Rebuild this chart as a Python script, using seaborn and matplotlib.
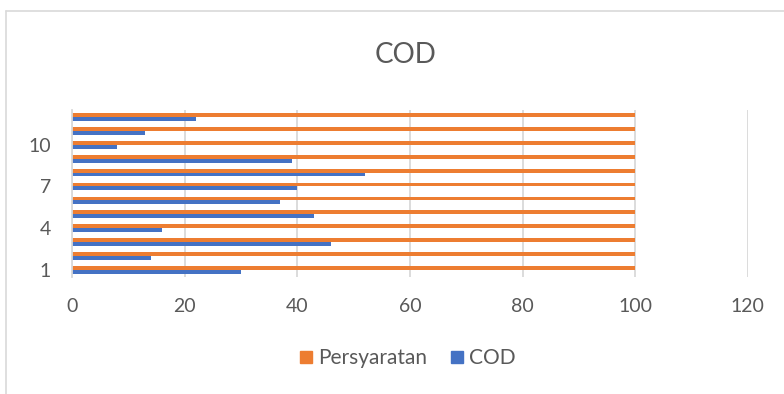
import pandas as pd
import matplotlib.pyplot as plt
import seaborn as sns
from matplotlib.lines import Line2D

# data
categories = [str(i) for i in range(1, 13)]
cod_values = [30, 14, 46, 16, 43, 37, 40, 52, 39, 8, 13, 22]
persyaratan_values = [100] * 12
shown_labels = ["1", "4", "7", "10"]

df = pd.DataFrame({
    "Sampel": categories * 2,
    "Nilai": persyaratan_values + cod_values,
    "Seri": ["Persyaratan"] * 12 + ["COD"] * 12,
})

sns.set_theme(style="white")
plt.rcParams["font.family"] = ["Lato", "DejaVu Sans"]
text_color = "#595959"
grid_color = "#d9d9d9"

fig = plt.figure(figsize=(7.84, 3.94), dpi=100)
ax = fig.add_axes([0.0918, 0.297, 0.862, 0.424])

sns.barplot(
    data=df, x="Nilai", y="Sampel", hue="Seri", orient="h",
    order=categories[::-1], hue_order=["Persyaratan", "COD"],
    palette={"Persyaratan": "#ED7D31", "COD": "#4472C4"},
    width=0.56, gap=0, saturation=1, linewidth=0, ax=ax, legend=False,
)

ax.set_xlim(0, 120)
ax.set_xticks(range(0, 121, 20))
ax.grid(axis="x", color=grid_color, linewidth=1.3)
ax.set_axisbelow(True)
for side in ["top", "right", "bottom"]:
    ax.spines[side].set_visible(False)
ax.spines["left"].set_color(grid_color)
ax.spines["left"].set_linewidth(1.3)

labels = [t.get_text() for t in ax.get_yticklabels()]
ax.set_yticks(ax.get_yticks())
ax.set_yticklabels([l if l in shown_labels else "" for l in labels])
ax.tick_params(axis="both", length=0, labelsize=14, colors=text_color)
ax.tick_params(axis="x", pad=15)
ax.tick_params(axis="y", pad=15)
ax.set_xlabel("")
ax.set_ylabel("")

fig.text(0.517, 0.86, "COD", ha="center", va="center", fontsize=20, color=text_color)

handles = [
    Line2D([], [], marker="s", linestyle="", markersize=8, color="#ED7D31"),
    Line2D([], [], marker="s", linestyle="", markersize=8, color="#4472C4"),
]
leg = fig.legend(handles, ["Persyaratan", "COD"], loc="center", bbox_to_anchor=(0.52, 0.091),
                 ncol=2, frameon=False, fontsize=15, handletextpad=0.3, columnspacing=1.1,
                 handlelength=0.6)
for t in leg.get_texts():
    t.set_color(text_color)

# outer chart frame (left and top edges visible)
fig.add_artist(Line2D([0.008, 0.008], [0, 0.972], color=grid_color, linewidth=1.2))
fig.add_artist(Line2D([0.008, 1.0], [0.972, 0.972], color=grid_color, linewidth=1.2))

fig.savefig("out.png", dpi=100)
